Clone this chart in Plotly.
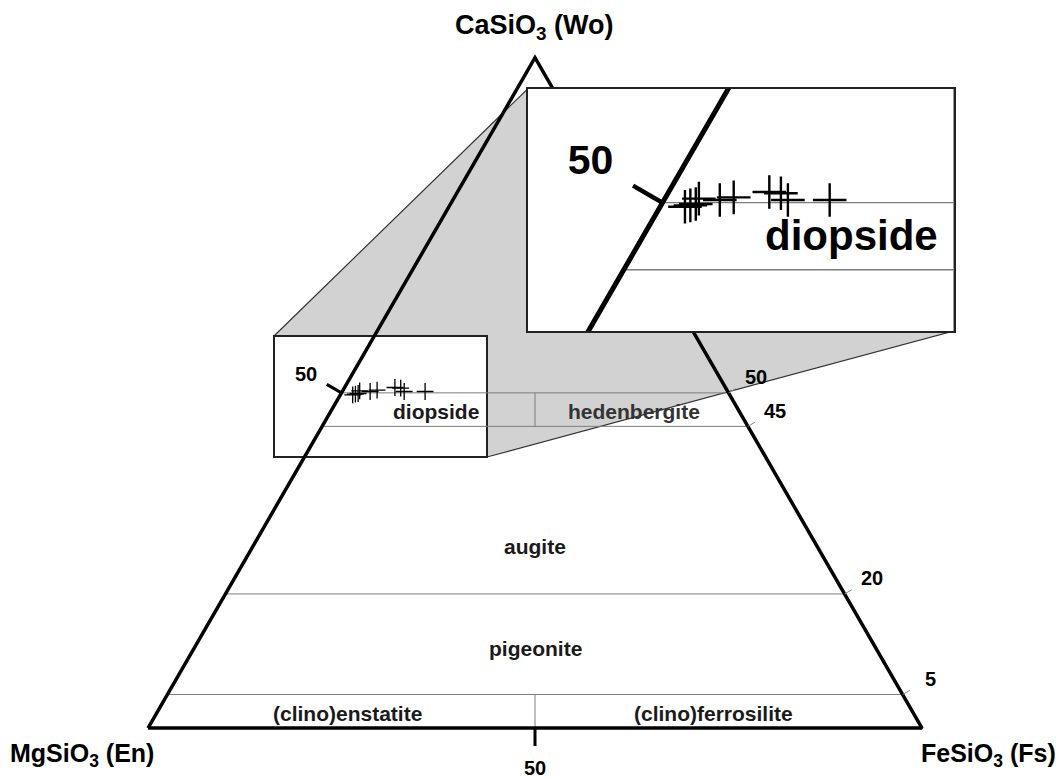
import numpy as np
import plotly.graph_objects as go

S3 = np.sqrt(3) / 2

# clinopyroxene analyses, mol % (En = 100 - Wo - Fs)
wo = [49.7, 49.8, 49.9, 50.3, 50.2, 50.4, 50.8, 50.7, 50.2, 50.2]
fs = [1.6, 1.9, 2.2, 2.2, 3.6, 4.4, 6.5, 7.3, 8.0, 10.7]

# classification boundaries (Wo %) and the En = Fs divider ranges
wo_levels = [5, 20, 45, 50]
wo_tick_text = ["5", "20", "45", "50"]
divider_ranges = [(0, 5), (45, 50)]

region_names = ["diopside", "hedenbergite", "augite", "pigeonite",
                "(clino)enstatite", "(clino)ferrosilite"]
region_pos = [(37.2, 40.9), (62.8, 40.9), (50, 23.5), (50, 10.3),
              (25.8, 1.9), (73.0, 1.9)]

FONT = "Liberation Sans, Arial, sans-serif"
W, H = 1064, 778
PAGE = 8                      # body margin of the html page
OX, OY, U = 148 - PAGE, 728 - PAGE, 7.74   # En corner in figure px, px per unit


def tern(w, f):
    w = np.asarray(w, float)
    f = np.asarray(f, float)
    return f + w / 2, w * S3


def px2d(px, py):
    # page pixel -> data coords
    return (px - PAGE - OX) / U, (OY - (py - PAGE)) / U


# main diagram geometry
tri_x = [0, 100, 50, 0]
tri_y = [0, 0, 100 * S3, 0]

lx, ly = [], []
for w in wo_levels:
    x0, y0 = tern(w, 0)
    x1, y1 = tern(w, 100 - w)
    lx += [float(x0), float(x1), None]
    ly += [float(y0), float(y1), None]
for a, b in divider_ranges:
    lx += [50, 50, None]
    ly += [a * S3, b * S3, None]

# ticks on right edge (outward normal)
nrm = np.array([S3, 0.5])
rtx, rty, rlab = [], [], []
for w in wo_levels:
    ex, ey = tern(w, 100 - w)
    rtx += [float(ex), float(ex + 1.1 * nrm[0]), None]
    rty += [float(ey), float(ey + 1.1 * nrm[1]), None]
    rlab.append((float(ex + 4.1 * nrm[0]), float(ey + 4.1 * nrm[1])))

# tick at Wo = 50 on the left edge
lex, ley = tern(50, 0)
ltx = [float(lex), float(lex - 2.2 * S3)]
lty = [float(ley), float(ley + 2.2 * 0.5)]

px_, py_ = tern(wo, fs)

# inset: small box (page pixels) magnified x2 into big box
sb = (274, 336, 487, 457)
bb_left, bb_top, MAG = 527.5, 89, 2.0
sx0, sy1 = px2d(sb[0], sb[1])
sx1, sy0 = px2d(sb[2], sb[3])
bb_right = bb_left + MAG * (sb[2] - sb[0])
bb_bottom = bb_top + MAG * (sb[3] - sb[1])

fig = go.Figure()

def add_lines(xs, ys, color, width, xa="x", ya="y"):
    fig.add_trace(go.Scatter(x=xs, y=ys, mode="lines", xaxis=xa, yaxis=ya,
                             line=dict(color=color, width=width),
                             hoverinfo="skip", showlegend=False))

for xa, ya, k in [("x", "y", 1.0), ("x2", "y2", MAG)]:
    add_lines(lx, ly, "#7d7d7d", 1.0 if k == 1 else 1.3, xa, ya)
    add_lines(tri_x, tri_y, "black", 3.5 if k == 1 else 5, xa, ya)
    add_lines(ltx, lty, "black", 3 if k == 1 else 4.5, xa, ya)
    fig.add_trace(go.Scatter(
        x=px_, y=py_, mode="markers", xaxis=xa, yaxis=ya,
        marker=dict(symbol="cross-thin", size=12 * k, color="black",
                    line=dict(color="black", width=1.3 if k == 1 else 2.4)),
        hoverinfo="skip", showlegend=False))

add_lines(rtx, rty, "#8a8a8a", 1.0)
add_lines([50, 50], [0, -18 / U], "black", 3)

# inset text (magnified)
dx, dy = region_pos[0]
l50x, l50y = px2d(305.5, 373.5)
fig.add_trace(go.Scatter(
    x=[dx, l50x], y=[dy, l50y], mode="text", xaxis="x2", yaxis="y2",
    text=["diopside", "50"],
    textfont=dict(family=FONT, size=[42, 41], color="black", weight="bold"),
    hoverinfo="skip", showlegend=False))

# shapes: grey zoom cone and the small box
cone = [px2d(*p) for p in [(sb[0], sb[1]), (bb_left, bb_top), (bb_right, bb_top),
                           (bb_right, bb_bottom), (sb[2], sb[3]), (sb[0], sb[3])]]
path = "M " + " L ".join(f"{a:.3f},{b:.3f}" for a, b in cone) + " Z"
fig.add_shape(type="path", path=path, xref="x", yref="y", layer="below",
              fillcolor="#d2d2d2", line=dict(color="#333", width=1.2))
fig.add_shape(type="rect", xref="x", yref="y", layer="below",
              x0=sx0, x1=sx1, y0=sy0, y1=sy1, fillcolor="white",
              line=dict(color="#222", width=2))

ann = []
def label(x, y, text, size, color="black"):
    ann.append(dict(x=x, y=y, xref="x", yref="y", text=text, showarrow=False,
                    font=dict(family=FONT, size=size, color=color, weight="bold"),
                    xanchor="center", yanchor="middle"))

for name, (x, y) in zip(region_names, region_pos):
    label(x, y, name, 21, "#1a1a1a" if name != "hedenbergite" else "#333")
for t, (x, y) in zip(wo_tick_text, rlab):
    label(x, y, t, 20)
label(*px2d(305.5, 373.5), "50", 20)
label(50, -40 / U, "50", 20)
label(*px2d(534, 27), "CaSiO<sub>3</sub> (Wo)", 27)
label(*px2d(82, 755), "MgSiO<sub>3</sub> (En)", 25)
label(*px2d(988, 755), "FeSiO<sub>3</sub> (Fs)", 25)

ax_off = dict(visible=False, showgrid=False, zeroline=False)
fig.update_layout(
    width=W, height=H, margin=dict(l=0, r=0, t=0, b=0),
    paper_bgcolor="white", plot_bgcolor="white", showlegend=False,
    xaxis=dict(range=[-OX / U, (W - OX) / U], domain=[0, 1], **ax_off),
    yaxis=dict(range=[(OY - H) / U, OY / U], domain=[0, 1], **ax_off),
    xaxis2=dict(range=[sx0, sx1], domain=[(bb_left - PAGE) / W, (bb_right - PAGE) / W],
                anchor="y2", showgrid=False, zeroline=False, showticklabels=False,
                ticks="", showline=True, mirror=True, linecolor="#222", linewidth=2),
    yaxis2=dict(range=[sy0, sy1], domain=[1 - (bb_bottom - PAGE) / H, 1 - (bb_top - PAGE) / H],
                anchor="x2", showgrid=False, zeroline=False, showticklabels=False,
                ticks="", showline=True, mirror=True, linecolor="#222", linewidth=2),
    annotations=ann,
)

fig.write_html("out.html")
